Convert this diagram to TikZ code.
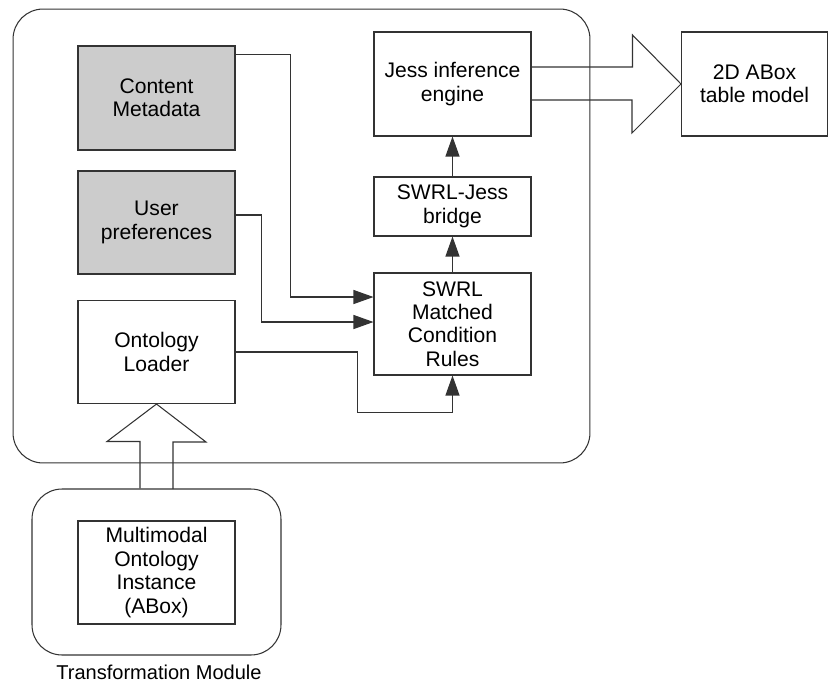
\documentclass[tikz,border=0pt]{standalone}
\usepackage{fontspec}
\setmainfont{Liberation Sans}
\usetikzlibrary{arrows.meta}

\tikzset{
  box/.style={draw=black!80, line width=0.6pt, minimum width=3.14cm, align=center,
    inner sep=0pt, font=\fontsize{12}{13.3}\selectfont},
  shaded/.style={box, fill=black!20},
  conn/.style={draw=black!80, line width=0.6pt, -{Triangle[length=0.4cm,width=0.28cm]}},
  bigarrow/.style={draw=black!80, line width=0.6pt},
  module/.style={draw=black!80, line width=0.6pt, rounded corners=0.6cm, inner sep=0pt}
}

\begin{document}
\begin{tikzpicture}[x=0.02cm, y=-0.02cm]
  \useasboundingbox (0,0) rectangle (829,684);

  % the two modules
  \node[module, minimum width=11.54cm, minimum height=9.08cm] (engine) at (301.5,236) {};
  \node[module, minimum width=4.98cm, minimum height=3.32cm] (trans) at (156.5,572) {};
  \node[font=\fontsize{11.4}{13.3}\selectfont] (translabel) at (159,672) {Transformation Module};

  % left column
  \node[shaded, minimum height=2.08cm] (content) at (156.5,98) {Content\\Metadata};
  \node[shaded, minimum height=2.06cm] (user) at (156.5,222.5) {User\\preferences};
  \node[box, minimum height=2.06cm] (loader) at (156.5,352) {Ontology\\Loader};
  \node[box, minimum height=2.06cm] (abox) at (156.5,572.5) {Multimodal\\Ontology\\Instance\\(ABox)};

  % right column
  \node[box, minimum height=2.08cm] (jess) at (452.5,84) {Jess inference\\engine};
  \node[box, minimum height=1.18cm] (bridge) at (452.5,206.5) {SWRL-Jess\\bridge};
  \node[box, minimum height=2.04cm] (swrl) at (452.5,324) {SWRL\\Matched\\Condition\\Rules};
  \node[box, minimum width=2.92cm, minimum height=2.08cm] (table) at (754.5,84) {2D ABox\\table model};

  % connectors
  \draw[conn] ([yshift=-0.18cm]content.north east) -- ++(55,0) |- ([yshift=0.54cm]swrl.west);
  \draw[conn] ([yshift=0.15cm]user.east) -- ++(26,0) |- ([yshift=0.04cm]swrl.west);
  \draw[conn] (loader.east) -- ++(122,0) |- ([yshift=-0.74cm]swrl.south) -- (swrl.south);
  \draw[conn] (swrl.north) -- (bridge.south);
  \draw[conn] (bridge.north) -- (jess.south);

  % block arrows
  \draw[bigarrow] ([yshift=0.34cm]jess.east) -- ++(101,0) -- ++(0,-32) -- (table.west)
    -- ++(-49,49) -- ++(0,-33) -- ++(-101,0);
  \draw[bigarrow] ([xshift=-0.33cm]trans.north) -- ++(0,-47) -- ++(-33,0) -- (loader.south)
    -- ++(49.5,38) -- ++(-33,0) -- ++(0,47);
\end{tikzpicture}
\end{document}
